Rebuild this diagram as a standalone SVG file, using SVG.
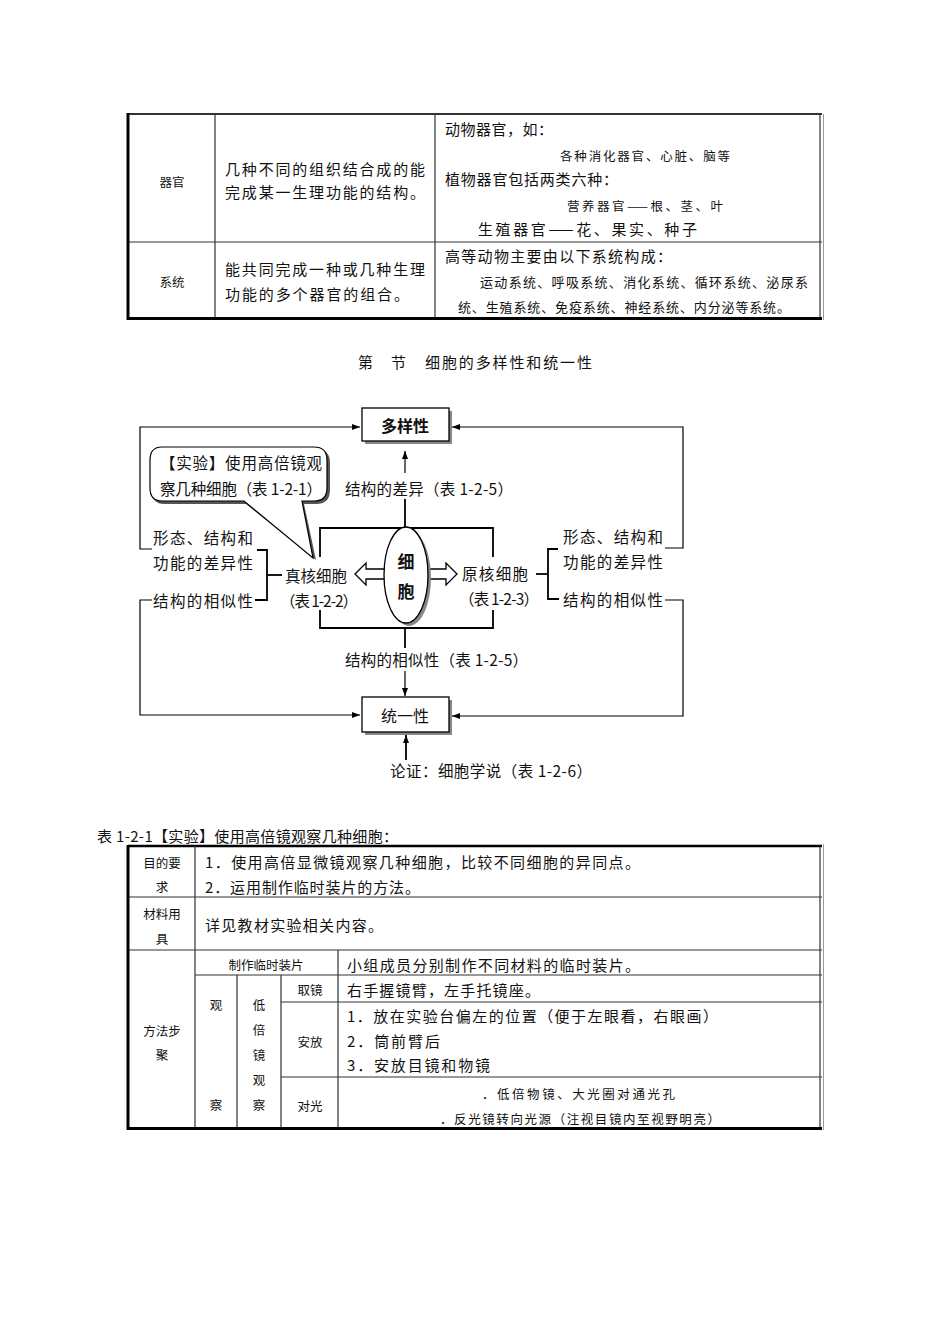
<svg xmlns="http://www.w3.org/2000/svg" width="950" height="1344" viewBox="0 0 950 1344">
<style>
text{font-family:"Noto Sans CJK SC","Liberation Sans",sans-serif;fill:#111;dominant-baseline:central}
.t15{font-size:15px}
.t13{font-size:13px}
.t12{font-size:12.5px}
.d16{font-size:15.5px}
.c{text-anchor:middle}
.grid{stroke:#333;stroke-width:1.2;fill:none}
.thick{stroke:#000;stroke-width:3;fill:none}
.ln{stroke:#000;stroke-width:1.2;fill:none}
.ln2{stroke:#000;stroke-width:1.8;fill:none}
.box{fill:#fff;stroke:#000;stroke-width:1.3}
.shadow{fill:#888}
</style>
<defs>
<marker id="ah" viewBox="0 0 8 6" refX="8" refY="3" markerWidth="8" markerHeight="6" markerUnits="userSpaceOnUse" orient="auto"><path d="M0,0 L8,3 L0,6 z" fill="#000"/></marker>
</defs>
<rect width="950" height="1344" fill="#fff"/>

<g id="table1">
<line class="grid" x1="128" y1="114" x2="822" y2="114" style="stroke-width:2"/>
<line class="grid" x1="128" y1="242" x2="822" y2="242"/>
<line class="grid" x1="215" y1="114" x2="215" y2="318"/>
<line class="grid" x1="435" y1="114" x2="435" y2="318"/>
<line class="grid" x1="820" y1="114" x2="820" y2="318"/>
<line class="grid" x1="823.5" y1="114" x2="823.5" y2="320" style="stroke:#999;stroke-width:1"/>
<line class="thick" x1="128" y1="113" x2="128" y2="320"/>
<line class="thick" x1="127" y1="318.5" x2="822" y2="318.5"/>
<text class="t12 c" x="172" y="181">器官</text>
<text class="t12 c" x="172" y="281">系统</text>
<text class="t15" x="225" y="168" textLength="200" lengthAdjust="spacing">几种不同的组织结合成的能</text>
<text class="t15" x="225" y="191" textLength="200" lengthAdjust="spacing">完成某一生理功能的结构。</text>
<text class="t15" x="225" y="268" textLength="200" lengthAdjust="spacing">能共同完成一种或几种生理</text>
<text class="t15" x="225" y="293" textLength="184" lengthAdjust="spacing">功能的多个器官的组合。</text>
<text class="t15" x="445" y="128" textLength="108" lengthAdjust="spacing">动物器官，如：</text>
<text class="t12" x="560" y="155" textLength="170" lengthAdjust="spacing">各种消化器官、心脏、脑等</text>
<text class="t15" x="445" y="178" textLength="173" lengthAdjust="spacing">植物器官包括两类六种：</text>
<text class="t12" x="567" y="205" textLength="156" lengthAdjust="spacing">营养器官——根、茎、叶</text>
<text class="t15" x="478" y="228" textLength="219" lengthAdjust="spacing">生殖器官——花、果实、种子</text>
<text class="t15" x="445" y="255" textLength="227" lengthAdjust="spacing">高等动物主要由以下系统构成：</text>
<text class="t13" x="480" y="281" textLength="328" lengthAdjust="spacing">运动系统、呼吸系统、消化系统、循环系统、泌尿系</text>
<text class="t13" x="458" y="306" textLength="332" lengthAdjust="spacing">统、生殖系统、免疫系统、神经系统、内分泌等系统。</text>
</g>

<g id="title">
<text class="t15" x="358" y="361">第</text>
<text class="t15" x="391" y="361">节</text>
<text class="t15" x="425" y="361" textLength="167" lengthAdjust="spacing">细胞的多样性和统一性</text>
</g>

<g id="connectors">
<polyline class="ln" points="152,549 140,549 140,427 360,427" marker-end="url(#ah)"/>
<polyline class="ln" points="665,548 683,548 683,427 452,427" marker-end="url(#ah)"/>
<polyline class="ln" points="152,600 140,600 140,715 360,715" marker-end="url(#ah)"/>
<polyline class="ln" points="665,600 683,600 683,716 452,716" marker-end="url(#ah)"/>
<polyline class="ln2" points="257,550 267,550 267,600 255,600"/>
<line class="ln2" x1="267" y1="575" x2="282" y2="575"/>
<polyline class="ln2" points="558,549 548,549 548,599 559,599"/>
<line class="ln2" x1="536" y1="574" x2="548" y2="574"/>
<polyline class="ln2" points="320,557 320,528 493,528 493,557"/>
<polyline class="ln2" points="320,610 320,628 493,628 493,610"/>
<line class="ln2" x1="405" y1="528" x2="405" y2="499"/>
<line class="ln" x1="405" y1="473" x2="405" y2="451" marker-end="url(#ah)"/>
<line class="ln2" x1="405" y1="628" x2="405" y2="648"/>
<line class="ln" x1="405" y1="671" x2="405" y2="696" marker-end="url(#ah)"/>
<line class="ln2" x1="406" y1="760" x2="406" y2="735" marker-end="url(#ah)"/>
<polygon points="355,574 366,563 366,569 385,569 385,579 366,579 366,585" fill="#fff" stroke="#000" stroke-width="1.3"/>
<polygon points="457,574 446,563 446,569 427,569 427,579 446,579 446,585" fill="#fff" stroke="#000" stroke-width="1.3"/>
</g>

<g id="node-diversity">
<rect class="shadow" x="365" y="411" width="87" height="33"/>
<rect class="box" x="362" y="408" width="87" height="33"/>
<text class="c" x="405" y="425" style="font-size:16px;font-weight:bold">多样性</text>
</g>

<g id="node-unity">
<rect class="shadow" x="365" y="700" width="87" height="35"/>
<rect class="box" x="362" y="697" width="87" height="35"/>
<text class="c" x="405" y="715" style="font-size:16px">统一性</text>
</g>

<g id="node-cell">
<ellipse cx="409" cy="578" rx="22" ry="48" fill="#888"/>
<ellipse cx="406" cy="575" rx="22" ry="48" fill="#fff" stroke="#000" stroke-width="1.3"/>
<text class="c" x="406" y="560" style="font-size:17px;font-weight:bold">细</text>
<text class="c" x="406" y="590" style="font-size:17px;font-weight:bold">胞</text>
</g>

<g id="node-bubble">
<path d="M164,449 H316 Q330,449 330,463 V490 Q330,504 316,504 H304 L316,560 L246,504 H164 Q152,504 152,490 V463 Q152,449 164,449 Z" fill="#555"/>
<path d="M162,447 H314 Q327,447 327,460 V488 Q327,501 314,501 H302 L313,558 L244,501 H162 Q150,501 150,488 V460 Q150,447 162,447 Z" fill="#fff" stroke="#000" stroke-width="1.2"/>
<text class="d16" x="160" y="462" textLength="162" lengthAdjust="spacing">【实验】使用高倍镜观</text>
<text class="d16" x="160" y="488" textLength="162" lengthAdjust="spacing">察几种细胞（表 1-2-1）</text>
</g>

<g id="node-eukaryote">
<text class="d16" x="285" y="575" textLength="62" lengthAdjust="spacing">真核细胞</text>
<text class="d16" x="280" y="600" textLength="78" lengthAdjust="spacing">（表 1-2-2）</text>
</g>

<g id="node-prokaryote">
<text class="d16" x="462" y="573" textLength="66" lengthAdjust="spacing">原核细胞</text>
<text class="d16" x="459" y="598" textLength="80" lengthAdjust="spacing">（表 1-2-3）</text>
</g>

<g id="labels">
<text class="d16" x="153" y="537" textLength="100" lengthAdjust="spacing">形态、结构和</text>
<text class="d16" x="153" y="562" textLength="100" lengthAdjust="spacing">功能的差异性</text>
<text class="d16" x="153" y="600" textLength="100" lengthAdjust="spacing">结构的相似性</text>
<text class="d16" x="563" y="536" textLength="100" lengthAdjust="spacing">形态、结构和</text>
<text class="d16" x="563" y="561" textLength="100" lengthAdjust="spacing">功能的差异性</text>
<text class="d16" x="563" y="599" textLength="100" lengthAdjust="spacing">结构的相似性</text>
<text class="d16" x="345" y="488" textLength="168" lengthAdjust="spacing">结构的差异（表 1-2-5）</text>
<text class="d16" x="345" y="659" textLength="183" lengthAdjust="spacing">结构的相似性（表 1-2-5）</text>
<text class="d16" x="390" y="770" textLength="202" lengthAdjust="spacing">论证：细胞学说（表 1-2-6）</text>
</g>

<g id="table2">
<text class="t15" x="97" y="835" textLength="301" lengthAdjust="spacing">表 1-2-1【实验】使用高倍镜观察几种细胞：</text>
<line class="grid" x1="128" y1="846" x2="822" y2="846" style="stroke-width:2.5;stroke:#000"/>
<line class="grid" x1="128" y1="897" x2="822" y2="897"/>
<line class="grid" x1="128" y1="950" x2="822" y2="950"/>
<line class="grid" x1="195" y1="975" x2="822" y2="975"/>
<line class="grid" x1="281" y1="1002" x2="822" y2="1002"/>
<line class="grid" x1="281" y1="1077" x2="822" y2="1077"/>
<line class="grid" x1="195" y1="846" x2="195" y2="1128"/>
<line class="grid" x1="237" y1="975" x2="237" y2="1128"/>
<line class="grid" x1="281" y1="975" x2="281" y2="1128"/>
<line class="grid" x1="338" y1="950" x2="338" y2="1128"/>
<line class="grid" x1="820" y1="846" x2="820" y2="1128"/>
<line class="grid" x1="823.5" y1="844" x2="823.5" y2="1130" style="stroke:#999;stroke-width:1"/>
<line class="thick" x1="128" y1="845" x2="128" y2="1130"/>
<line class="thick" x1="127" y1="1128.5" x2="822" y2="1128.5"/>
<text class="t12 c" x="162" y="862">目的要</text>
<text class="t12 c" x="162" y="886">求</text>
<text class="t12 c" x="162" y="913">材料用</text>
<text class="t12 c" x="162" y="938">具</text>
<text class="t12 c" x="162" y="1030">方法步</text>
<text class="t12 c" x="162" y="1054">聚</text>
<text class="t15" x="205" y="861" textLength="435" lengthAdjust="spacing">1．使用高倍显微镜观察几种细胞，比较不同细胞的异同点。</text>
<text class="t15" x="205" y="886" textLength="215" lengthAdjust="spacing">2．运用制作临时装片的方法。</text>
<text class="t15" x="205" y="924" textLength="178" lengthAdjust="spacing">详见教材实验相关内容。</text>
<text class="t12 c" x="266" y="964">制作临时装片</text>
<text class="t15" x="347" y="964" textLength="293" lengthAdjust="spacing">小组成员分别制作不同材料的临时装片。</text>
<text class="t12 c" x="216" y="1004">观</text>
<text class="t12 c" x="216" y="1104">察</text>
<text class="t12 c" x="259" y="1004">低</text>
<text class="t12 c" x="259" y="1029">倍</text>
<text class="t12 c" x="259" y="1054">镜</text>
<text class="t12 c" x="259" y="1079">观</text>
<text class="t12 c" x="259" y="1104">察</text>
<text class="t12 c" x="310" y="989">取镜</text>
<text class="t12 c" x="310" y="1041">安放</text>
<text class="t12 c" x="310" y="1105">对光</text>
<text class="t15" x="347" y="989" textLength="193" lengthAdjust="spacing">右手握镜臂，左手托镜座。</text>
<text class="t15" x="347" y="1015" textLength="371" lengthAdjust="spacing">1．放在实验台偏左的位置（便于左眼看，右眼画）</text>
<text class="t15" x="347" y="1040" textLength="93" lengthAdjust="spacing">2．筒前臂后</text>
<text class="t15" x="347" y="1064" textLength="143" lengthAdjust="spacing">3．安放目镜和物镜</text>
<text class="t12" x="482" y="1093" textLength="193" lengthAdjust="spacing">．低倍物镜、大光圈对通光孔</text>
<text class="t12" x="440" y="1118" textLength="280" lengthAdjust="spacing">．反光镜转向光源（注视目镜内至视野明亮）</text>
</g>
</svg>
